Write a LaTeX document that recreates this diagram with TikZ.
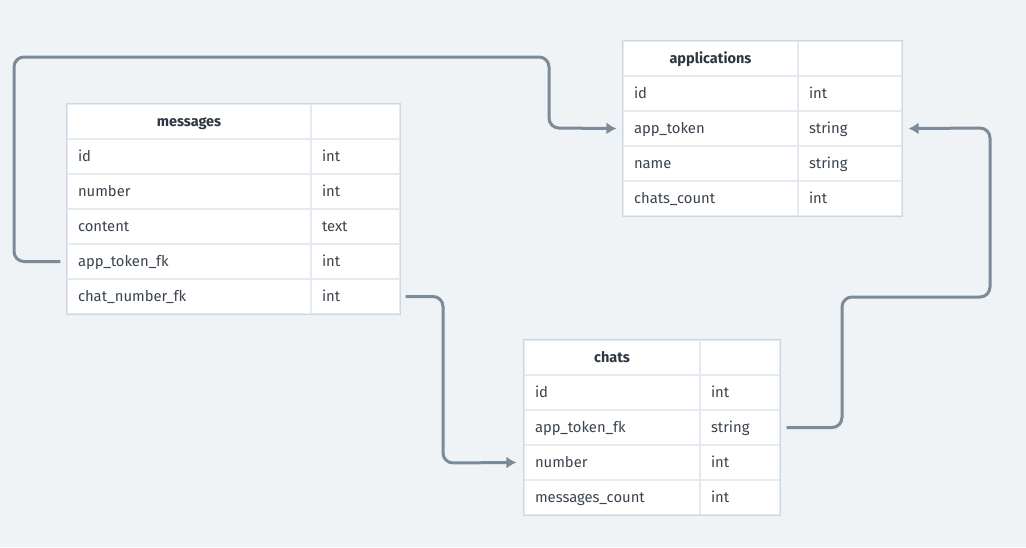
\documentclass[tikz,border=0pt]{standalone}
\usepackage{fontspec}
\setmainfont{Fira Sans}
\usetikzlibrary{arrows.meta}

\definecolor{bgcol}{RGB}{239,243,246}
\definecolor{framecol}{RGB}{205,215,224}
\definecolor{rowline}{RGB}{228,234,239}
\definecolor{textcol}{RGB}{58,68,78}
\definecolor{headcol}{RGB}{44,55,66}
\definecolor{linkcol}{RGB}{124,139,153}

\tikzstyle{cell} = [rectangle, draw=rowline, line width=1.2pt, fill=white, minimum height=35pt, inner xsep=11pt, inner ysep=0pt, text height=11pt, text depth=1pt, align=left, text=textcol, font=\fontsize{14.8}{17}\selectfont]
\tikzstyle{tablehead} = [cell, align=center, text=headcol, font=\fontsize{14.5}{17}\selectfont\bfseries]
\tikzstyle{tableframe} = [draw=framecol, line width=1.4pt]
\tikzstyle{arrow} = [draw=linkcol, line width=3pt, rounded corners=10pt, -{Latex[length=10pt,width=12pt]}]

\begin{document}
\begin{tikzpicture}[x=1pt, y=-1pt, node distance=35pt]
\fill [bgcol] (0,0) rectangle (1026,547);
\useasboundingbox (0,0) rectangle (1026,547);

% messages
\node (msg) [tablehead, text width=222pt] at (189,121.5) {messages};
\node (msg-id) [cell, text width=222pt, below of=msg] {id};
\node (msg-num) [cell, text width=222pt, below of=msg-id] {number};
\node (msg-cont) [cell, text width=222pt, below of=msg-num] {content};
\node (msg-app) [cell, text width=222pt, below of=msg-cont] {app\_token\_fk};
\node (msg-chat) [cell, text width=222pt, below of=msg-app] {chat\_number\_fk};
\node (msg-t) [tablehead, text width=67pt] at (355.5,121.5) {};
\node (msg-id-t) [cell, text width=67pt, below of=msg-t] {int};
\node (msg-num-t) [cell, text width=67pt, below of=msg-id-t] {int};
\node (msg-cont-t) [cell, text width=67pt, below of=msg-num-t] {text};
\node (msg-app-t) [cell, text width=67pt, below of=msg-cont-t] {int};
\node (msg-chat-t) [cell, text width=67pt, below of=msg-app-t] {int};
\draw [tableframe] (msg.north west) rectangle (msg-chat-t.south east);

% applications
\node (app) [tablehead, text width=153pt] at (710.5,58.5) {applications};
\node (app-id) [cell, text width=153pt, below of=app] {id};
\node (app-tok) [cell, text width=153pt, below of=app-id] {app\_token};
\node (app-name) [cell, text width=153pt, below of=app-tok] {name};
\node (app-cnt) [cell, text width=153pt, below of=app-name] {chats\_count};
\node (app-t) [tablehead, text width=82pt] at (850,58.5) {};
\node (app-id-t) [cell, text width=82pt, below of=app-t] {int};
\node (app-tok-t) [cell, text width=82pt, below of=app-id-t] {string};
\node (app-name-t) [cell, text width=82pt, below of=app-tok-t] {string};
\node (app-cnt-t) [cell, text width=82pt, below of=app-name-t] {int};
\draw [tableframe] (app.north west) rectangle (app-cnt-t.south east);

% chats
\node (chat) [tablehead, text width=154pt] at (612,357.5) {chats};
\node (chat-id) [cell, text width=154pt, below of=chat] {id};
\node (chat-app) [cell, text width=154pt, below of=chat-id] {app\_token\_fk};
\node (chat-num) [cell, text width=154pt, below of=chat-app] {number};
\node (chat-cnt) [cell, text width=154pt, below of=chat-num] {messages\_count};
\node (chat-t) [tablehead, text width=58pt] at (740,357.5) {};
\node (chat-id-t) [cell, text width=58pt, below of=chat-t] {int};
\node (chat-app-t) [cell, text width=58pt, below of=chat-id-t] {string};
\node (chat-num-t) [cell, text width=58pt, below of=chat-app-t] {int};
\node (chat-cnt-t) [cell, text width=58pt, below of=chat-num-t] {int};
\draw [tableframe] (chat.north west) rectangle (chat-cnt-t.south east);

% links
\draw [arrow] ([xshift=-6pt]msg-app.west) -| (14,57) -| (549,128) -- ([xshift=-6pt]app-tok.west);
\draw [arrow] ([xshift=5pt]msg-chat-t.east) -| (443,463) -- ([xshift=-7pt]chat-num.west);
\draw [arrow] ([xshift=6pt]chat-app-t.east) -| (842,297) -| (990,128) -- ([xshift=6pt]app-tok-t.east);

\end{tikzpicture}
\end{document}
